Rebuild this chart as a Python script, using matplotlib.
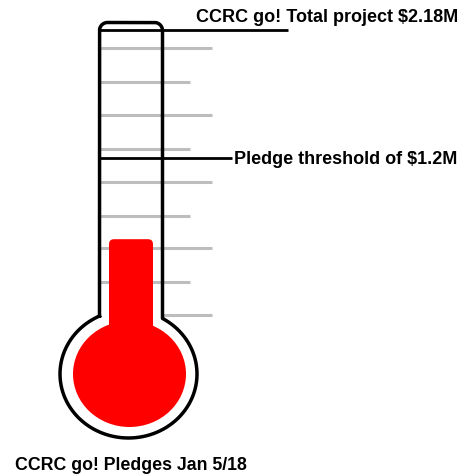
import numpy as np
import matplotlib.pyplot as plt
from matplotlib.patches import Ellipse, FancyBboxPatch

# Values in $M
total_project = 2.18
pledge_threshold = 1.2
pledged = 0.58
tick_values = [0, 0.25, 0.51, 0.76, 1.02, 1.27, 1.53, 1.78, 2.04]
tick_long = [True, False, True, False, True, False, True, False, True]

total_label = 'CCRC go! Total project $2.18M'
threshold_label = 'Pledge threshold of $1.2M'
footer_label = 'CCRC go! Pledges Jan 5/18'

plt.rcParams['font.family'] = ['Liberation Sans', 'DejaVu Sans']

# Canvas: x in pixels, y in $M
W, H = 465, 477
px = 130.7      # pixels per $M
zero_px = 316   # pixel row of $0

fig = plt.figure(figsize=(W / 100, H / 100), dpi=100)
ax = fig.add_axes([0, 0, 1, 1])
ax.set_xlim(0, W)
ax.set_ylim(-(H - zero_px) / px, zero_px / px)
ax.axis('off')

# Thermometer geometry
left, right = 99.5, 162.5
top = (zero_px - 23.5) / px
corner = 8
bulb_cx, bulb_cy = 128.5, -(375 - zero_px) / px
bulb_rx, bulb_ry = 68.5, 64 / px

# Gray scale marks behind everything
tick_values = np.array(tick_values)
tick_end = np.where(tick_long, 212, 190)
tick_start = np.where(tick_values > 0, 100, 163)
ax.hlines(tick_values, tick_start, tick_end, color='#bdbdbd', lw=2.2, zorder=1)

# Red fill: bulb plus stem up to the pledged amount
red = '#ff0000'
ax.add_patch(Ellipse((129.5, bulb_cy), 113, 106 / px, color=red, lw=0, zorder=2))
stem_bottom = bulb_cy
ax.add_patch(FancyBboxPatch((109, stem_bottom), 44, pledged - stem_bottom,
                            boxstyle='round,pad=0,rounding_size=5',
                            mutation_aspect=1 / px, color=red, lw=0, zorder=2))

# Outline of the glass
t_left = np.arccos((left - bulb_cx) / bulb_rx)
t_right = np.arccos((right - bulb_cx) / bulb_rx)
t = np.linspace(t_left, 2 * np.pi + t_right, 200)
bx = bulb_cx + bulb_rx * np.cos(t)
by = bulb_cy + bulb_ry * np.sin(t)

a = np.linspace(np.pi, np.pi / 2, 20)
lcx = left + corner + corner * np.cos(a)
lcy = top - corner / px + corner / px * np.sin(a)
a = np.linspace(np.pi / 2, 0, 20)
rcx = right - corner + corner * np.cos(a)
rcy = top - corner / px + corner / px * np.sin(a)

ox = np.concatenate([[left], lcx, rcx, [right], bx[::-1]])
oy = np.concatenate([[by[0]], lcy, rcy, [by[-1]], by[::-1]])
ax.plot(ox, oy, color='black', lw=2.5, solid_joinstyle='round', zorder=3)

# Goal and threshold lines
ax.hlines(total_project, 98, 288, color='black', lw=2, zorder=3)
ax.hlines(pledge_threshold, 98, 232, color='black', lw=2, zorder=3)

ax.text(196, total_project + 14 / px, total_label, fontsize=13,
        fontweight='bold', va='center', ha='left')
ax.text(234, pledge_threshold, threshold_label, fontsize=13,
        fontweight='bold', va='center', ha='left')
ax.text(15, -(466 - zero_px) / px, footer_label, fontsize=12.8,
        fontweight='bold', va='center', ha='left')

fig.savefig('out.png', dpi=100)
